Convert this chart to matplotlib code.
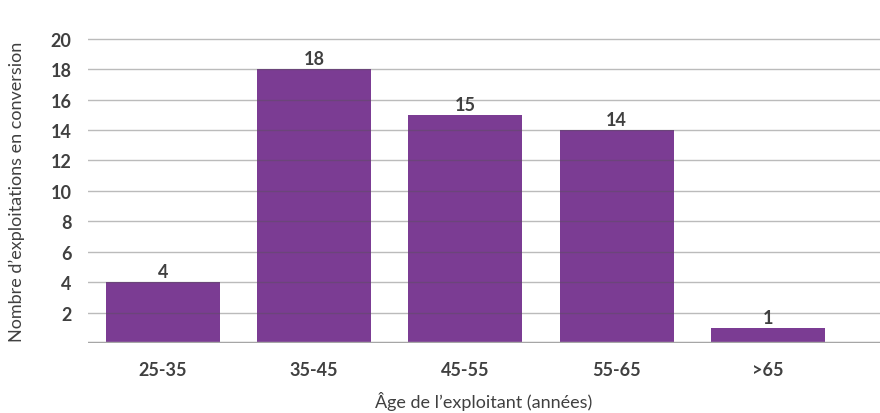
import matplotlib
matplotlib.use("Agg")
import matplotlib.pyplot as plt
import numpy as np

categories = ["25-35", "35-45", "45-55", "55-65", ">65"]
values = [4, 18, 15, 14, 1]
yticks = [2, 4, 6, 8, 10, 12, 14, 16, 18, 20]

plt.rcParams['font.family'] = ['Lato', 'DejaVu Sans']
txt = '#404040'
bar_color = '#7B3C93'

fig = plt.figure(figsize=(8.8, 4.14), dpi=100)
ax = fig.add_axes([88/880, 1-344/414, (880-88)/880, (344-39)/414])

x = np.arange(len(categories))
ax.bar(x, values, width=0.754, color=bar_color, zorder=2)
for xi, v in zip(x, values):
    ax.text(xi, v + 0.15, str(v), ha='center', va='bottom', fontsize=13,
            fontweight='bold', color=txt, zorder=4)

for t in yticks:
    ax.axhline(t, color='#555555', alpha=0.4, lw=1, zorder=3)
ax.axhline(0, color='#a6a6a6', lw=2.5, zorder=4)

ax.set_xlim(-0.496, 4.742)
ax.set_ylim(0, 20.05)
ax.set_yticks(yticks)
ax.set_yticklabels([str(t) for t in yticks], fontsize=13, fontweight='bold', color=txt)
ax.set_xticks(x)
ax.set_xticklabels(categories, fontsize=13, fontweight='bold', color=txt)
ax.tick_params(axis='both', length=0)
ax.tick_params(axis='y', pad=12)
ax.tick_params(axis='x', pad=13)
for s in ax.spines.values():
    s.set_visible(False)

ax.set_xlabel("Âge de l’exploitant (années)", fontsize=13, color=txt, labelpad=9)
ax.set_ylabel("Nombre d’exploitations en conversion", fontsize=13, color=txt, labelpad=18)

fig.savefig("out.png", dpi=100)
